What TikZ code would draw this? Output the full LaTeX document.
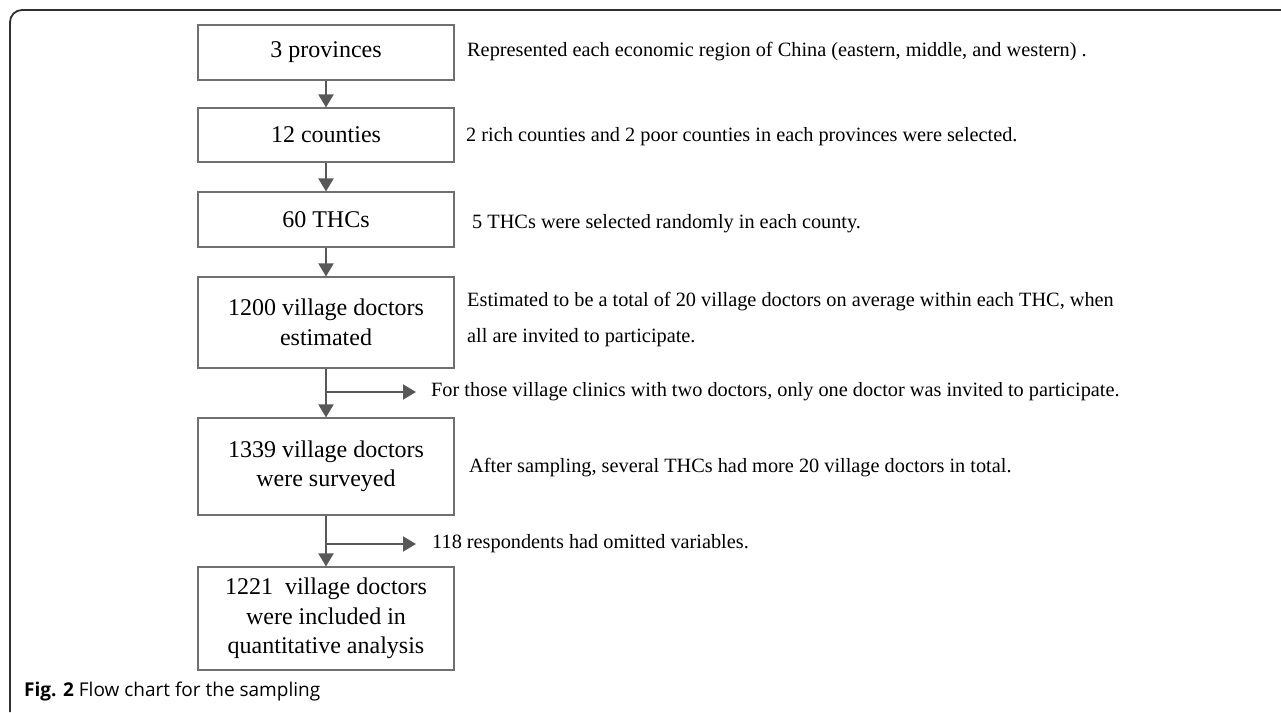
\documentclass[tikz,border=0pt]{standalone}
\usepackage{fontspec}
\setmainfont{Liberation Serif}
\newfontfamily\capfont{Open Sans}
\usepackage{xcolor}
\usepackage{tikz}
\usetikzlibrary{arrows.meta, positioning, calc}

\definecolor{boxgray}{HTML}{707070}
\definecolor{arrgray}{HTML}{585858}
\definecolor{framegray}{HTML}{303030}

\begin{document}
\begin{tikzpicture}[x=1pt, y=-1pt,
    stepbox/.style={draw=boxgray, line width=1.1pt, minimum width=256pt, align=center, inner sep=0pt, font=\fontsize{24}{29.5}\selectfont},
    note/.style={anchor=west, inner sep=0pt, align=left, font=\fontsize{20.3}{36}\selectfont},
    flow/.style={draw=arrgray, line width=2pt, -{Triangle[length=13pt, width=15pt]}}]
        \useasboundingbox (0,0) rectangle (1281,712);
        % Frame round the figure (top and left side only)
        \draw[framegray, line width=1.8pt, rounded corners=12pt] (10,712) -- (10,10) -- (1281,10);

        % Boxes of the sampling steps
        \node[stepbox, minimum height=55pt] (prov) at (326,52.5) {3 provinces};
        \node[stepbox, minimum height=54pt] (cnty) at (326,135) {12 counties};
        \node[stepbox, minimum height=55pt] (thc) at (326,219.5) {60 THCs};
        \node[stepbox, minimum height=91pt] (est) at (326,322.5) {1200 village doctors\\estimated};
        \node[stepbox, minimum height=97pt] (surv) at (326,466.5) {1339 village doctors\\were surveyed};
        \node[stepbox, minimum height=103pt] (incl) at (326,618.5) {1221\ \ village doctors\\were included in\\quantitative analysis};

        % Notes to the right of the boxes
        \node[note] (nprov) at (467,52) {Represented each economic region of China (eastern, middle, and western) .};
        \node[note] (ncnty) at (466,137) {2 rich counties and 2 poor counties in each provinces were selected.};
        \node[note] (nthc) at (472,224) {5 THCs were selected randomly in each county.};
        \node[note] (nest) at (467,320) {Estimated to be a total of 20 village doctors on average within each THC, when\\all are invited to participate.};
        \node[note] (nsurv) at (469,468) {After sampling, several THCs had more 20 village doctors in total.};

        % Vertical arrows
        \draw[flow] (prov) -- (cnty);
        \draw[flow] (cnty) -- (thc);
        \draw[flow] (thc) -- (est);
        \draw[flow] (est) -- (surv);
        \draw[flow] (surv) -- (incl);

        % Side branches (excluded)
        \coordinate (b1) at (326,392);
        \coordinate (b1e) at (416,392);
        \node[note] (nb1) at (431,392) {For those village clinics with two doctors, only one doctor was invited to participate.};
        \draw[flow] (b1) -- (b1e);
        \coordinate (b2) at (326,544);
        \coordinate (b2e) at (416,544);
        \node[note] (nb2) at (432,544) {118 respondents had omitted variables.};
        \draw[flow] (b2) -- (b2e);

        % Caption
        \node[anchor=west, inner sep=0pt, font=\capfont\fontsize{19}{22}\selectfont] (cap) at (24,692) {\textbf{Fig. 2} Flow chart for the sampling};
    \end{tikzpicture}
\end{document}
